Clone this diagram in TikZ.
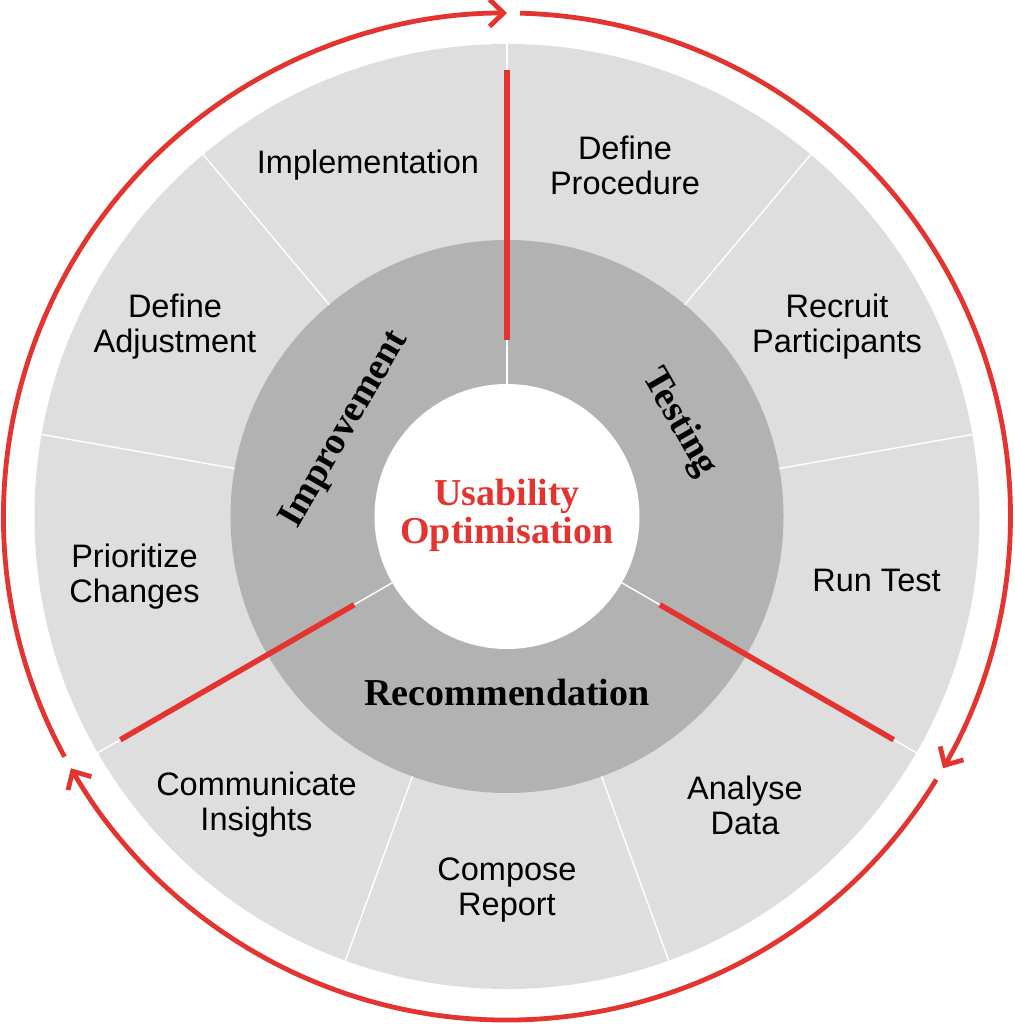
\documentclass[tikz,border=0pt]{standalone}
\usepackage{fontspec}
\setmainfont{Liberation Sans}
\newfontfamily\phasefont{Liberation Serif}
\usetikzlibrary{arrows.meta}
\definecolor{lightring}{HTML}{DEDEDE}
\definecolor{darkring}{HTML}{B3B2B3}
\definecolor{accent}{HTML}{E3342F}
\begin{document}
\begin{tikzpicture}[x=1pt,y=1pt,
  seglabel/.style={font=\fontsize{32.5}{35}\selectfont, align=center, text=black, inner sep=0pt},
  phaselabel/.style={font=\phasefont\bfseries\fontsize{38}{38}\selectfont, align=center, text=black, inner sep=0pt},
  divider/.style={white, line width=1.4pt},
  spoke/.style={accent, line width=5.5pt},
  cycle/.style={accent, line width=4.8pt, -{Straight Barb[length=14pt,width=27pt]}}
]
\useasboundingbox (-507,-507.5) rectangle (507,516.5);
% rings
\fill[lightring] (0,0) circle[radius=472.5];
\fill[darkring] (0,0) circle[radius=276.5];
\fill[white] (0,0) circle[radius=132.5];
% dividers between steps (outer ring only)
\foreach \a in {50,10,-70,-110,170,130}
  \draw[divider] (\a:276.5) -- (\a:472.5);
% dividers between phases (full depth)
\foreach \a in {90,-30,210}
  \draw[divider] (\a:132.5) -- (\a:472.5);
% red phase spokes
\coordinate (sp1a) at (90:176.5);  \coordinate (sp1b) at (90:446.5);
\coordinate (sp2a) at (-30:176.5); \coordinate (sp2b) at (-30:446.5);
\coordinate (sp3a) at (210:176.5); \coordinate (sp3b) at (210:446.5);
\draw[spoke] (sp1a) -- (sp1b);
\draw[spoke] (sp2a) -- (sp2b);
\draw[spoke] (sp3a) -- (sp3b);
% outer cycle arrows
\draw[cycle] (88.5:503.5) arc[start angle=88.5, end angle=-30, radius=503.5];
\draw[cycle] (-31.5:503.5) arc[start angle=-31.5, end angle=-150, radius=503.5];
\draw[cycle] (-151.5:503.5) arc[start angle=-151.5, end angle=-270, radius=503.5];
% centre
\node[phaselabel, text=accent] (core) at (0,1) {Usability\\Optimisation};
% phases
\node[phaselabel, rotate=-60] (testing) at (172,93.5) {Testing};
\node[phaselabel] (recommendation) at (0,-176) {Recommendation};
\node[phaselabel, rotate=60] (improvement) at (-162,86.5) {Improvement};
% segments
\node[seglabel] (impl) at (-139,351.5) {Implementation};
\node[seglabel] (defproc) at (118,351.5) {Define\\Procedure};
\node[seglabel] (recruit) at (330,189.5) {Recruit\\Participants};
\node[seglabel] (runtest) at (369.5,-63.5) {Run Test};
\node[seglabel] (analyse) at (238,-288.5) {Analyse\\Data};
\node[seglabel] (compose) at (0,-373.5) {Compose\\Report};
\node[seglabel] (communicate) at (-250.5,-288.5) {Communicate\\Insights};
\node[seglabel] (prioritize) at (-372.5,-60.5) {Prioritize\\Changes};
\node[seglabel] (defadj) at (-332,189.5) {Define\\Adjustment};
\end{tikzpicture}
\end{document}
